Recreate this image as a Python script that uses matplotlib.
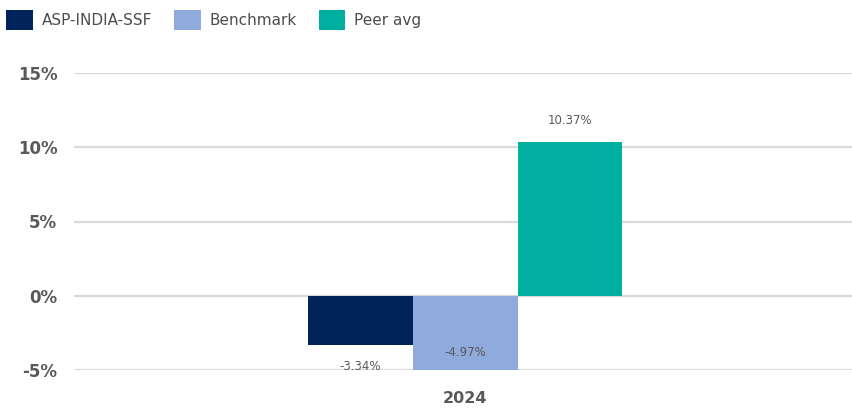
import matplotlib
matplotlib.use("Agg")
import matplotlib.pyplot as plt
from matplotlib.patches import Patch
import numpy as np

plt.rcParams['font.family'] = ['DejaVu Sans']

categories = ["2024"]
series_names = ["ASP-INDIA-SSF", "Benchmark", "Peer avg"]
series_values = [[-3.34], [-4.97], [10.37]]
colors = ["#00235A", "#8FAADC", "#00AFA0"]
yticks = [-5, 0, 5, 10, 15]

fig = plt.figure(figsize=(8.52, 4.09), dpi=100)
ax = fig.add_axes([74/852, 39/409, 1 - 74/852 + 0.005, (370-73)/409])

x = np.arange(len(categories))
bw = 0.134
n = len(series_names)
ymin, ymax = -5, 15
for i, (name, vals, c) in enumerate(zip(series_names, series_values, colors)):
    pos = x + (i - (n-1)/2) * bw
    ax.bar(pos, vals, width=bw, color=c, zorder=3, label=name)
    for p, v in zip(pos, vals):
        txt = f"{v:.2f}%"
        if v >= 0:
            off = 15
        elif v - 1.6 >= ymin:
            off = -15
        else:
            off = 12
        ax.annotate(txt, (p, v), xytext=(0, off), textcoords="offset points",
                    ha="center", va="center", fontsize=8.5, color="#595959", zorder=4)

ax.set_xlim(-0.5, 0.5)
ax.set_ylim(ymin, ymax)
ax.set_yticks(yticks)
ax.set_yticklabels([f"{t}%" for t in yticks], fontsize=12, color="#595959", fontweight="bold")
ax.set_xticks(x)
ax.set_xticklabels(categories, fontsize=11.5, color="#595959", fontweight="bold")
ax.tick_params(axis="both", length=0)
ax.tick_params(axis="y", pad=12)
ax.tick_params(axis="x", pad=15)
ax.grid(axis="y", color="#D9D9D9", linewidth=1.6, zorder=0)
for s in ax.spines.values():
    s.set_visible(False)

handles = [Patch(facecolor=c, edgecolor="none") for c in colors]
fig.legend(handles, series_names, loc="upper left", bbox_to_anchor=(1/852, 1 - 5/409),
           ncol=3, frameon=False, fontsize=11, handlelength=1.75, handleheight=1.65,
           columnspacing=1.45, handletextpad=0.55, labelcolor="#4d4d4d",
           borderaxespad=0.0, borderpad=0.35)

fig.savefig("out.png", dpi=100)
